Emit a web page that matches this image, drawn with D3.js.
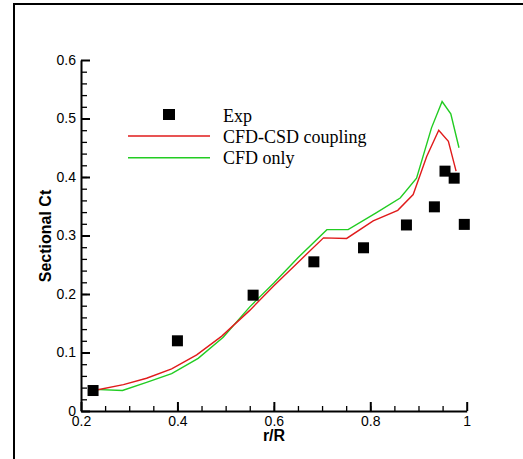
<!DOCTYPE html>
<html>
<head>
<meta charset="utf-8">
<script src="https://cdn.jsdelivr.net/npm/d3@7"></script>
<style>
  body { margin: 0; background: #fff; }
  .tick text { font-family: "Liberation Sans", Arial, sans-serif; font-size: 14px; fill: #000; }
  .axisTitle { font-family: "Liberation Sans", Arial, sans-serif; font-size: 16px; font-weight: bold; }
  .legendText { font-family: "Liberation Serif", "Times New Roman", serif; font-size: 18px; }
</style>
</head>
<body>
<div class="chart"></div>
<script>
var svgWidth = 523;
var svgHeight = 459;

// experimental points
var expR  = [0.225, 0.400, 0.557, 0.683, 0.786, 0.875, 0.933, 0.955, 0.974, 0.995];
var expCt = [0.035, 0.120, 0.198, 0.255, 0.279, 0.318, 0.349, 0.410, 0.398, 0.319];

// CFD-CSD coupling
var coupledR  = [0.227, 0.288, 0.336, 0.388, 0.440, 0.492, 0.550, 0.600, 0.650, 0.703, 0.751, 0.806, 0.857, 0.889, 0.917, 0.942, 0.962, 0.978];
var coupledCt = [0.035, 0.045, 0.056, 0.072, 0.096, 0.128, 0.172, 0.214, 0.254, 0.296, 0.295, 0.325, 0.343, 0.370, 0.435, 0.480, 0.461, 0.410];

// CFD only
var cfdR  = [0.227, 0.286, 0.336, 0.388, 0.443, 0.495, 0.550, 0.600, 0.650, 0.710, 0.754, 0.813, 0.862, 0.896, 0.927, 0.949, 0.967, 0.984];
var cfdCt = [0.037, 0.035, 0.049, 0.064, 0.090, 0.126, 0.178, 0.219, 0.262, 0.310, 0.310, 0.339, 0.364, 0.398, 0.484, 0.529, 0.508, 0.450];

var xTicks = [0.2, 0.4, 0.6, 0.8, 1];
var yTicks = [0, 0.1, 0.2, 0.3, 0.4, 0.5, 0.6];
var legendLabels = ["Exp", "CFD-CSD coupling", "CFD only"];

var svg = d3.select(".chart")
  .append("svg")
  .attr("width", svgWidth)
  .attr("height", svgHeight);

// frame (left + top edges visible)
svg.append("path")
  .attr("d", "M14," + svgHeight + "V4H" + svgWidth)
  .attr("fill", "none")
  .attr("stroke", "#000")
  .attr("stroke-width", 2);

var x = d3.scaleLinear().domain([0.2, 1]).range([81, 466.7]);
var y = d3.scaleLinear().domain([0, 0.6]).range([411, 60]);

// minor ticks
svg.append("g")
  .attr("transform", "translate(0,411)")
  .call(d3.axisBottom(x).tickValues(d3.range(0.25, 1, 0.05)).tickSize(-5).tickSizeOuter(0).tickFormat(""))
  .call(function(g) { g.select(".domain").remove(); g.selectAll("line").attr("stroke-width", 1.3); });

svg.append("g")
  .attr("transform", "translate(81,0)")
  .call(d3.axisLeft(y).tickValues(d3.range(0.02, 0.6, 0.02)).tickSize(-6).tickSizeOuter(0).tickFormat(""))
  .call(function(g) { g.select(".domain").remove(); g.selectAll("line").attr("stroke-width", 1.3); });

// major axes
svg.append("g")
  .attr("transform", "translate(0,411)")
  .call(d3.axisBottom(x).tickValues(xTicks).tickSize(-9).tickSizeOuter(0).tickPadding(5).tickFormat(d3.format("~g")))
  .call(function(g) {
    g.select(".domain").attr("stroke-width", 2);
    g.selectAll("line").attr("stroke-width", 2);
  });

svg.append("g")
  .attr("transform", "translate(81,0)")
  .call(d3.axisLeft(y).tickValues(yTicks).tickSize(-9).tickSizeOuter(0).tickPadding(5).tickFormat(d3.format("~g")))
  .call(function(g) {
    g.select(".domain").attr("stroke-width", 2);
    g.selectAll("line").attr("stroke-width", 2);
  });

svg.append("text")
  .attr("class", "axisTitle")
  .attr("x", 274)
  .attr("y", 441)
  .attr("text-anchor", "middle")
  .text("r/R");

svg.append("text")
  .attr("class", "axisTitle")
  .attr("transform", "translate(51,236) rotate(-90)")
  .attr("text-anchor", "middle")
  .text("Sectional Ct");

var line = d3.line()
  .x(function(d) { return x(d[0]); })
  .y(function(d) { return y(d[1]); });

svg.append("path")
  .datum(d3.zip(cfdR, cfdCt))
  .attr("d", line)
  .attr("fill", "none")
  .attr("stroke", "#22cc22")
  .attr("stroke-width", 1.4);

svg.append("path")
  .datum(d3.zip(coupledR, coupledCt))
  .attr("d", line)
  .attr("fill", "none")
  .attr("stroke", "#e01b1b")
  .attr("stroke-width", 1.4);

svg.selectAll("rect.exp")
  .data(d3.zip(expR, expCt))
  .enter().append("rect")
    .attr("class", "exp")
    .attr("x", function(d) { return x(d[0]) - 5.5; })
    .attr("y", function(d) { return y(d[1]) - 5.5; })
    .attr("width", 11)
    .attr("height", 11)
    .attr("fill", "#000");

// legend
var legend = svg.append("g");
legend.append("rect")
  .attr("x", 163).attr("y", 109).attr("width", 12).attr("height", 11)
  .attr("fill", "#000");
legend.append("line")
  .attr("x1", 128).attr("x2", 210).attr("y1", 136).attr("y2", 136)
  .attr("stroke", "#e01b1b").attr("stroke-width", 1.4);
legend.append("line")
  .attr("x1", 128).attr("x2", 210).attr("y1", 157.7).attr("y2", 157.7)
  .attr("stroke", "#22cc22").attr("stroke-width", 1.4);

legend.selectAll("text")
  .data(legendLabels)
  .enter().append("text")
    .attr("class", "legendText")
    .attr("x", 223)
    .attr("y", function(d, i) { return 121.5 + i * 21.3; })
    .text(function(d) { return d; });
</script>
</body>
</html>
